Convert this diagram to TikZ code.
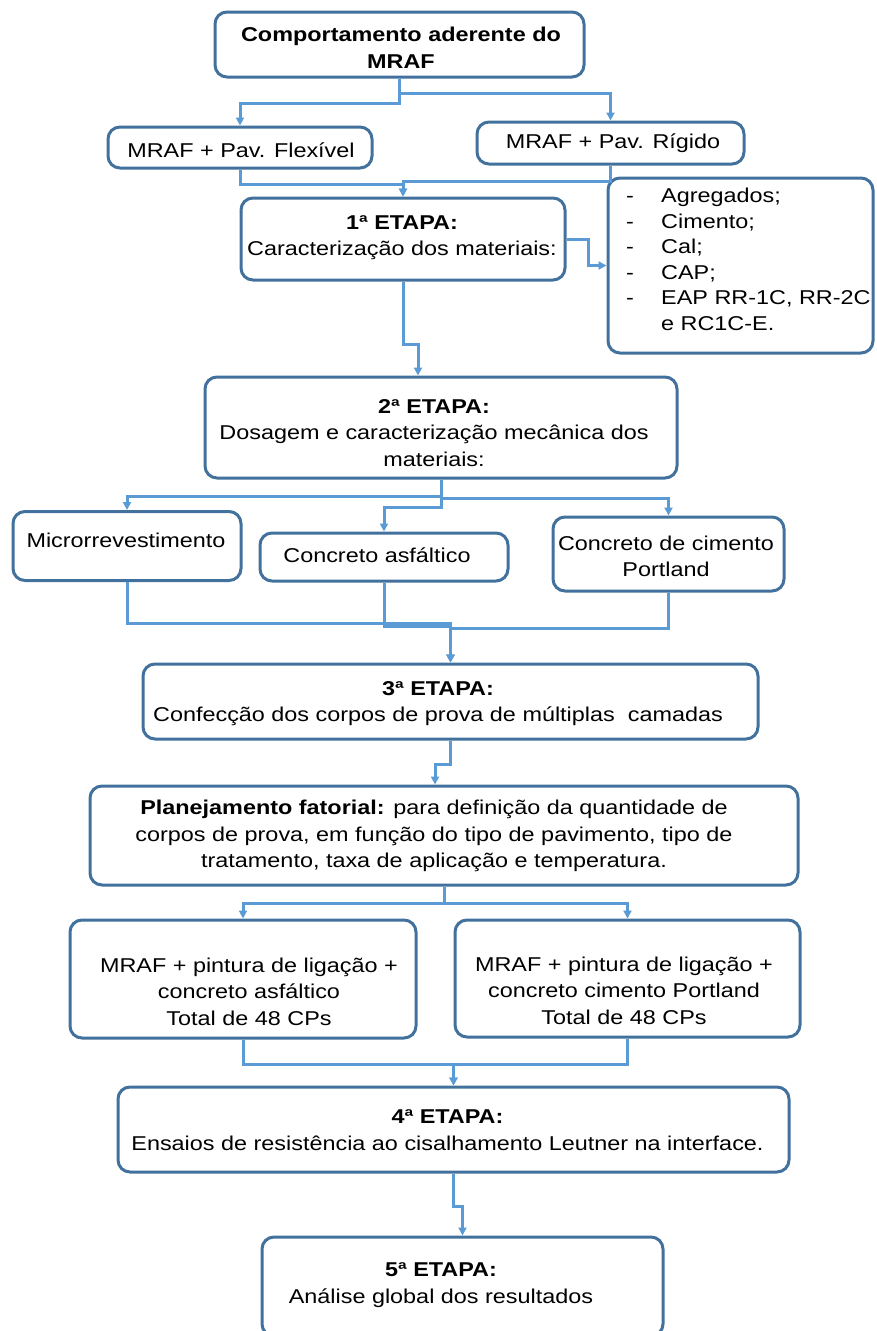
\documentclass[tikz,border=0pt]{standalone}
\usepackage{fontspec}
\setmainfont{Liberation Sans}[FakeStretch=1.17]
\usetikzlibrary{arrows.meta}
\definecolor{boxline}{HTML}{41719C}
\definecolor{connline}{HTML}{5B9BD5}
\tikzset{
  flowbox/.style={draw=boxline, line width=3pt, rounded corners=12pt, inner sep=0pt, fill=white},
  txt/.style={inner sep=0pt, align=center, font=\fontsize{20}{26.5}\selectfont},
  conn/.style={draw=connline, line width=3pt, -{Triangle[length=8pt,width=8pt]}}
}
\begin{document}
\begin{tikzpicture}[x=1pt, y=-1pt]
\useasboundingbox (0,0) rectangle (877,1331);

% boxes
\node[flowbox, minimum width=369pt, minimum height=65pt] (A) at (399.5,44.5) {};
\node[flowbox, minimum width=264pt, minimum height=41pt] (B) at (240,147.5) {};
\node[flowbox, minimum width=267pt, minimum height=42pt] (C) at (610.5,143) {};
\node[flowbox, minimum width=324pt, minimum height=82pt] (D) at (403,239) {};
\node[flowbox, minimum width=265pt, minimum height=175pt] (E) at (740.5,265.5) {};
\node[flowbox, minimum width=472pt, minimum height=101pt] (F) at (441,427.5) {};
\node[flowbox, minimum width=228pt, minimum height=69pt] (G) at (127,546) {};
\node[flowbox, minimum width=248pt, minimum height=48pt] (H) at (384,557) {};
\node[flowbox, minimum width=231pt, minimum height=74pt] (I) at (668.5,554) {};
\node[flowbox, minimum width=615pt, minimum height=75pt] (J) at (450.5,701.5) {};
\node[flowbox, minimum width=708pt, minimum height=99pt] (K) at (444,835.5) {};
\node[flowbox, minimum width=346pt, minimum height=118pt] (L) at (243,979) {};
\node[flowbox, minimum width=345pt, minimum height=117pt] (M) at (627.5,978.5) {};
\node[flowbox, minimum width=671pt, minimum height=85pt] (N) at (453.5,1129.5) {};
\node[flowbox, minimum width=401pt, minimum height=99pt] (O) at (462.5,1286.5) {};

% texts
\node[txt] (At) at (401,48) {\bfseries Comportamento aderente do\\\bfseries MRAF};
\node[txt] (Bt) at (241,150) {MRAF + Pav. Flexível};
\node[txt] (Ct) at (613,143) {MRAF + Pav. Rígido};
\node[txt] (Dt) at (402,237.5) {\bfseries 1ª ETAPA:\\Caracterização dos materiais:};
\node[txt, align=left, anchor=north west, font=\fontsize{20}{25.5}\selectfont] (Et) at (626,188) {%
\makebox[35pt][l]{-}Agregados;\\
\makebox[35pt][l]{-}Cimento;\\
\makebox[35pt][l]{-}Cal;\\
\makebox[35pt][l]{-}CAP;\\
\makebox[35pt][l]{-}EAP RR-1C, RR-2C\\
\hspace*{35pt}e RC1C-E.};
\node[txt] (Ft) at (434,433) {\bfseries 2ª ETAPA:\\Dosagem e caracterização mecânica dos\\materiais:};
\node[txt] (Gt) at (126,540) {Microrrevestimento};
\node[txt] (Ht) at (377,555) {Concreto asfáltico};
\node[txt] (It) at (666,556.5) {Concreto de cimento\\Portland};
\node[txt] (Jt) at (438,703.5) {\bfseries 3ª ETAPA:\\Confecção dos corpos de prova de múltiplas\ \ camadas};
\node[txt] (Kt) at (434,836) {\textbf{Planejamento fatorial:} para definição da quantidade de\\corpos de prova, em função do tipo de pavimento, tipo de\\tratamento, taxa de aplicação e temperatura.};
\node[txt] (Lt) at (249,991.5) {MRAF + pintura de ligação +\\concreto asfáltico\\Total de 48 CPs};
\node[txt] (Mt) at (624,990.5) {MRAF + pintura de ligação +\\concreto cimento Portland\\Total de 48 CPs};
\node[txt] (Nt) at (447.5,1130) {\bfseries 4ª ETAPA:\\Ensaios de resistência ao cisalhamento Leutner na interface.};
\node[txt] (Ot) at (441,1285) {\bfseries 5ª ETAPA:\\Análise global dos resultados};

% connectors
\draw[conn] (A.south) -- ++(0,25) -| (B.north);
\draw[conn] (A.south) -- ++(0,15) -| (C.north);
\draw[conn] (B.south) -- ++(0,15) -| (D.north);
\draw[conn] (C.south) -- ++(0,16) -| (D.north);
\draw[conn] (D.east) -- ++(22,0) |- (E.west);
\draw[conn] (D.south) -- ++(0,63) -| ([xshift=-23pt]F.north);
\draw[conn] (F.south) -- ++(0,17) -| (G.north);
\draw[conn] (F.south) -- ++(0,19) -| (I.north);
\draw[conn] (F.south) -- ++(0,28) -| (H.north);
\draw[conn] (G.south) -- ++(0,41) -| (J.north);
\draw[conn] (H.south) -- ++(0,44) -| (J.north);
\draw[conn] (I.south) -- ++(0,36) -| (J.north);
\draw[conn] (J.south) -- ++(0,24) -| ([xshift=-9pt]K.north);
\draw[conn] (K.south) -- ++(0,17) -| (L.north);
\draw[conn] (K.south) -- ++(0,17) -| (M.north);
\draw[conn] (L.south) -- ++(0,25) -| (N.north);
\draw[conn] (M.south) -- ++(0,26) -| (N.north);
\draw[conn] (N.south) -- ++(0,33) -| (O.north);
\end{tikzpicture}
\end{document}
